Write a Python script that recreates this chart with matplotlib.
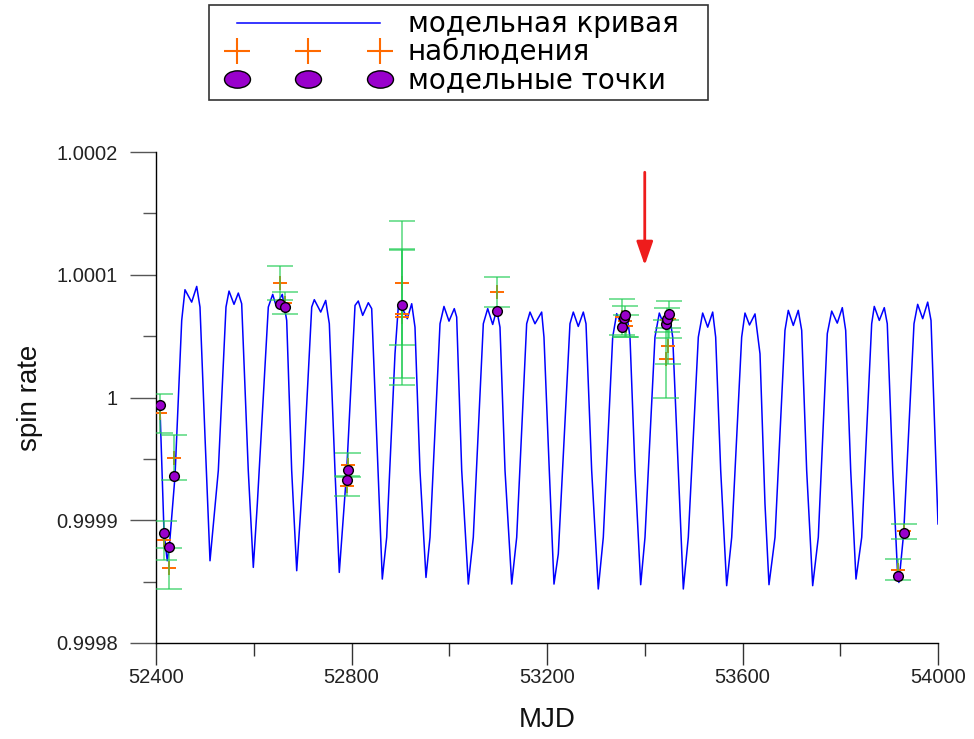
import numpy as np
import matplotlib
matplotlib.use('Agg')
import matplotlib.pyplot as plt
from matplotlib.lines import Line2D
from matplotlib.legend_handler import HandlerLine2D
from matplotlib.path import Path
from matplotlib.transforms import Affine2D
from matplotlib import ticker

# ---------------- data ----------------
curve_mjd = [
    52408, 52416.4, 52423, 52427.2, 52438.9, 52452.6, 52459.3, 52473.0, 52483.3, 52490.0, 52500.3, 52510.5,
    52527.5, 52543.2, 52549.4, 52559.6, 52568.4, 52575.3, 52588.8, 52599.1,
    52607.3, 52629.8, 52638.8, 52645.5, 52658.4, 52667.4, 52677.6, 52687.9,
    52701.4, 52718.6, 52723.9, 52737.0, 52747.2, 52754.6, 52766.2, 52775.0,
    52790.2, 52807.2, 52813.9, 52822.9, 52834.4, 52841.3, 52851.6, 52863.0,
    52872.0, 52889.0, 52895.7, 52900.2, 52914.2, 52923.2, 52929.9, 52940.1, 52952.4,
    52960.6, 52981.1, 52989.2, 52999.5, 53010.3, 53015.2, 53025.5, 53039.0,
    53049.2, 53069.7, 53078.7, 53088.9, 53097.1, 53103.8, 53114.1, 53127.8,
    53138.0, 53158.4, 53165.2, 53175.4, 53189.1, 53193.8, 53204.7, 53214.3,
    53223.1, 53247.0, 53253.8, 53264.0, 53274.3, 53279.8, 53291.4, 53304.9,
    53315.2, 53334.4, 53342.6, 53352.8, 53363.1, 53369.8, 53380.0, 53391.7,
    53400.5, 53420.9, 53429.8, 53439.4, 53450.2, 53457.2, 53468.6, 53478.9,
    53489.1, 53509.6, 53518.5, 53528.8, 53539.0, 53545.1, 53555.4, 53567.6,
    53577.9, 53598.3, 53605.1, 53614.3, 53625.6, 53635.8, 53646.0, 53654.2,
    53666.5, 53686.9, 53693.7, 53703.9, 53714.1, 53721.1, 53731.3, 53743.6,
    53755.1, 53773.5, 53782.5, 53793.9, 53804.2, 53811.1, 53821.4, 53832.2,
    53843.9, 53864.3, 53869.6, 53879.9, 53890.1, 53896.2, 53907.3, 53917.5, 53920.0,
    53929.8, 53950.9, 53958.4, 53968.7, 53978.9, 53985.7, 54000.0,
]
curve_val = [
    0.9999935, 0.9998899, 0.9998670, 0.9998782, 0.9999360, 1.0000628, 1.0000878, 1.0000777, 1.0000905, 1.0000737, 0.9999676, 0.9998670,
    0.9999405, 1.0000737, 1.0000867, 1.0000759, 1.0000851, 1.0000764, 0.9999405, 0.9998616,
    0.9999133, 1.0000737, 1.0000840, 1.0000750, 1.0000840, 1.0000628, 0.9999405, 0.9998589,
    0.9999405, 1.0000737, 1.0000797, 1.0000696, 1.0000791, 1.0000601, 0.9999405, 0.9998575,
    0.9999405, 1.0000750, 1.0000786, 1.0000669, 1.0000772, 1.0000724, 0.9999676, 0.9998521,
    0.9998861, 1.0000356, 1.0000737, 1.0000759, 1.0000642, 1.0000764, 1.0000573, 0.9999405, 0.9998534,
    0.9998861, 1.0000601, 1.0000742, 1.0000622, 1.0000724, 1.0000655, 0.9999405, 0.9998480,
    0.9998861, 1.0000601, 1.0000724, 1.0000595, 1.0000715, 1.0000573, 0.9999405, 0.9998480,
    0.9998861, 1.0000601, 1.0000696, 1.0000601, 1.0000696, 1.0000492, 0.9999405, 0.9998480,
    0.9998725, 1.0000601, 1.0000696, 1.0000579, 1.0000696, 1.0000601, 0.9999405, 0.9998440,
    0.9998861, 1.0000492, 1.0000683, 1.0000587, 1.0000683, 1.0000492, 0.9999405, 0.9998475,
    0.9998861, 1.0000492, 1.0000688, 1.0000587, 1.0000683, 1.0000492, 0.9999405, 0.9998440,
    0.9998861, 1.0000492, 1.0000688, 1.0000573, 1.0000696, 1.0000492, 0.9999405, 0.9998467,
    0.9998861, 1.0000492, 1.0000688, 1.0000591, 1.0000681, 1.0000356, 0.9999133, 0.9998475,
    0.9998861, 1.0000547, 1.0000710, 1.0000587, 1.0000710, 1.0000547, 0.9999405, 0.9998467,
    0.9998861, 1.0000520, 1.0000704, 1.0000606, 1.0000732, 1.0000547, 0.9999405, 0.9998521,
    0.9998861, 1.0000601, 1.0000742, 1.0000628, 1.0000732, 1.0000601, 0.9999405, 0.9998548, 0.9998493,
    0.9998896, 1.0000601, 1.0000759, 1.0000642, 1.0000777, 1.0000628, 0.9998970,
]

obs_mjd = [52408.2, 52416.4, 52427.2, 52437.4, 52653.7, 52663.9, 52792.0, 52791.0,
           52903.0, 52903.0, 52904.0, 53097.1, 53353.0, 53359.0, 53361.0,
           53444.0, 53447.0, 53449.0, 53445.6, 53917.5, 53929.8]
obs_val = [0.9999872, 0.9998836, 0.9998608, 0.9999511, 1.0000932, 1.0000772, 0.9999451, 0.9999277,
           1.0000932, 1.0000677, 1.0000653, 1.0000859, 1.0000653, 1.0000620, 1.0000579,
           1.0000310, 1.0000418, 1.0000636, 1.0000632, 0.9998597, 0.9998909]
obs_err = [0.0000160, 0.0000160, 0.0000167, 0.0000180, 0.0000136, 0.0000088, 0.0000100, 0.0000082,
           0.0000506, 0.0000522, 0.0000555, 0.0000120, 0.0000147, 0.0000125, 0.0000090,
           0.0000318, 0.0000147, 0.0000152, 0.0000100, 0.0000084, 0.0000061]

model_mjd = [52408.0, 52416.4, 52427.2, 52437.4, 52653.7, 52663.9, 52792.0, 52791.0,
             52903.0, 53097.0, 53353.0, 53358.0, 53359.0, 53443.5, 53446.0, 53449.5,
             53917.5, 53929.8]
model_val = [0.9999935, 0.9998899, 0.9998782, 0.9999364, 1.0000764, 1.0000737, 0.9999410, 0.9999329,
             1.0000756, 1.0000704, 1.0000571, 1.0000644, 1.0000669, 1.0000601, 1.0000642, 1.0000683,
             0.9998548, 0.9998896]

x_ticks = [52400, 52800, 53200, 53600, 54000]
x_tick_labels = ['52400', '52800', '53200', '53600', '54000']
y_ticks = [0.9998, 0.9999, 1.0, 1.0001, 1.0002]
y_tick_labels = ['0.9998', '0.9999', '1', '1.0001', '1.0002']
legend_labels = ['модельная кривая', 'наблюдения', 'модельные точки']

arrow_mjd = 53400
arrow_from = 1.0001835
arrow_to = 1.0001077

# ---------------- style ----------------
plt.rcParams['font.family'] = ['Liberation Sans', 'DejaVu Sans']

fig = plt.figure(figsize=(9.74, 7.39), dpi=100)
ax = fig.add_axes([156 / 974, 1 - 643 / 739, (938 - 156) / 974, (643 - 152) / 739])

ax.plot(curve_mjd, curve_val, color='#0000ff', lw=1.1, zorder=2)
ax.plot(obs_mjd, obs_val, ls='none', marker='+', ms=10, mew=1.4, color='#ff6a00', zorder=3)
ax.errorbar(obs_mjd, obs_val, yerr=obs_err, fmt='none', ecolor='#22cc55', elinewidth=1.2,
            capsize=9.2, capthick=1.2, alpha=0.7, zorder=4)
ax.plot(model_mjd, model_val, ls='none', marker='o', ms=7, mfc='#9900cc', mec='black', mew=1, zorder=5)

ax.annotate('', xy=(arrow_mjd, arrow_to), xytext=(arrow_mjd, arrow_from),
            arrowprops=dict(arrowstyle='-|>,head_length=0.72,head_width=0.25', color='#ee1c1c',
                            lw=2, shrinkA=0, shrinkB=0, mutation_scale=20))

ax.set_xlim(52400, 54000)
ax.set_ylim(0.9998, 1.0002)
for s in ('top', 'right'):
    ax.spines[s].set_visible(False)
for s in ('left', 'bottom'):
    ax.spines[s].set_linewidth(1.0)
    ax.spines[s].set_color('black')

ax.set_xticks(x_ticks, labels=x_tick_labels)
ax.set_yticks(y_ticks, labels=y_tick_labels)
ax.xaxis.set_minor_locator(ticker.MultipleLocator(200))
ax.yaxis.set_minor_locator(ticker.MultipleLocator(0.00005))

ax.tick_params(axis='y', which='major', direction='out', length=18.7, width=1, color='#555555',
               pad=8.6, labelsize=14.5, labelcolor='#222222')
ax.tick_params(axis='y', which='minor', direction='out', length=9.4, width=1, color='#555555')
ax.tick_params(axis='x', which='major', direction='out', length=16, width=1, color='#333333',
               pad=2, labelsize=14.5, labelcolor='#222222')
ax.tick_params(axis='x', which='minor', direction='out', length=9.4, width=1, color='#333333')

ax.set_xlabel('MJD', fontsize=20, color='#111111')
ax.set_ylabel('spin rate', fontsize=20, color='#111111')
ax.xaxis.set_label_coords(0.5, -0.131)
ax.yaxis.set_label_coords(-0.1445, 0.5)

# legend
ell = Path.unit_circle().transformed(Affine2D().scale(1.5, 1.0))
handles = [Line2D([], [], color='#0000ff', lw=1.1),
           Line2D([], [], ls='none', marker='+', ms=19, mew=1.5, color='#ff6a00'),
           Line2D([], [], ls='none', marker=ell, ms=18.7, mfc='#9900cc', mec='black', mew=1)]
leg = fig.legend(handles, legend_labels, loc='upper left',
                 bbox_to_anchor=(209 / 974, 1 - 104 / 739, (708 - 209) / 974, 99 / 739),
                 bbox_transform=fig.transFigure, mode='expand', borderaxespad=0,
                 numpoints=3, handlelength=5.96, handletextpad=1.0, borderpad=0.19,
                 labelspacing=0.0, frameon=True, fancybox=False, shadow=False,
                 prop={'family': ['DejaVu Sans'], 'size': 20},
                 handler_map={Line2D: HandlerLine2D(marker_pad=0, xpad=0.82)})
leg.get_frame().set_edgecolor('#333333')
leg.get_frame().set_linewidth(1.2)
leg.get_frame().set_alpha(1)

fig.savefig('out.png', dpi=100, facecolor='white')
